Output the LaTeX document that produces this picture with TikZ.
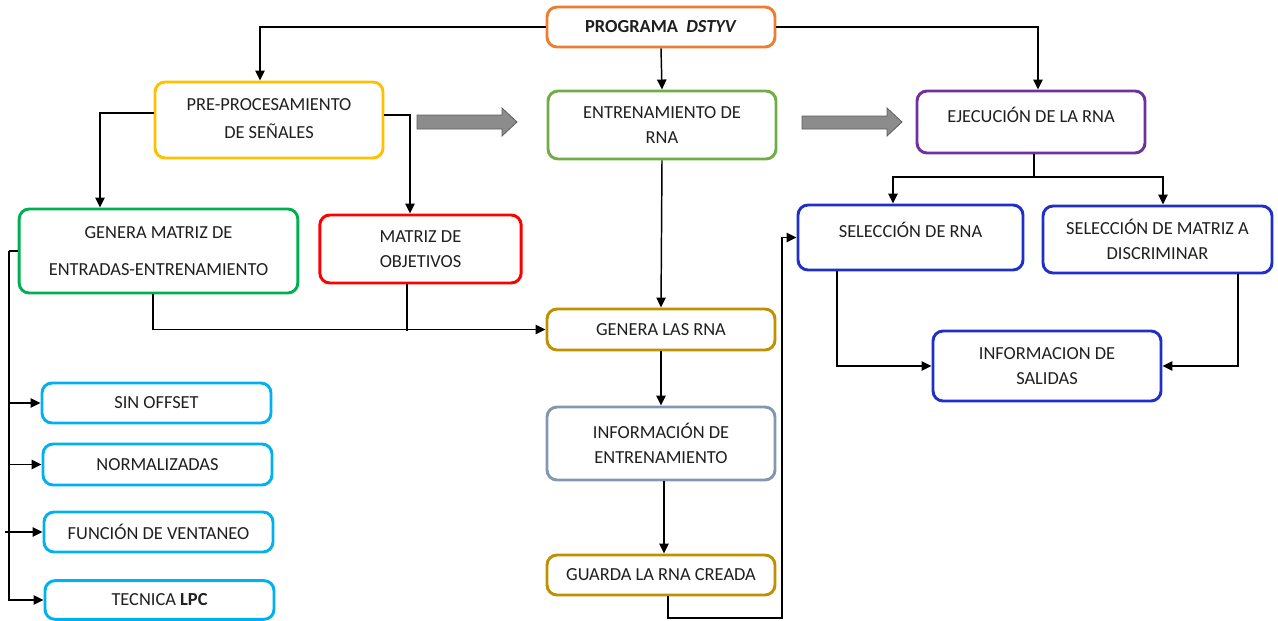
\documentclass[tikz,border=0pt]{standalone}
\usepackage{fontspec}
\setmainfont{Carlito}
\usetikzlibrary{arrows.meta,calc}
\definecolor{cOrange}{HTML}{ED7D31}
\definecolor{cYellow}{HTML}{FFC000}
\definecolor{cLeaf}{HTML}{70AD47}
\definecolor{cPurple}{HTML}{7030A0}
\definecolor{cGreen}{HTML}{00B050}
\definecolor{cRed}{HTML}{FF0000}
\definecolor{cGold}{HTML}{BF9000}
\definecolor{cSlate}{HTML}{8497B0}
\definecolor{cBlue}{HTML}{1F2FC8}
\definecolor{cSky}{HTML}{00B0F0}
\definecolor{cBlockFill}{HTML}{8C8C8C}
\definecolor{cBlockLine}{HTML}{5E5E5E}
\begin{document}
\begin{tikzpicture}[x=0.75pt,y=-0.75pt,
  box/.style={draw=#1, line width=2.2pt, rounded corners=7.5pt, fill=white,
    align=center, inner sep=0pt, text=black!88,
    font=\fontsize{13.8}{18.75}\selectfont},
  conn/.style={draw=black, line width=1.1pt},
  arrow/.style={conn, -{Triangle[length=7.5pt,width=7pt]}},
  blockarrow/.style={fill=cBlockFill, draw=cBlockLine, line width=0.6pt}]
\useasboundingbox (0,0) rectangle (1278,621);

% top level
\node[box=cOrange, minimum width=171pt, minimum height=30pt] (prog) at (661,27)
  {\textbf{PROGRAMA\ \ \textit{DSTYV}}};
\node[box=cYellow, minimum width=171pt, minimum height=57pt] (pre) at (269,120)
  {\raisebox{2pt}[\height][\depth]{PRE-PROCESAMIENTO}\\DE SEÑALES};
\node[box=cLeaf, minimum width=171pt, minimum height=51pt] (ent) at (662,125)
  {ENTRENAMIENTO DE\\RNA};
\node[box=cPurple, minimum width=171pt, minimum height=46.5pt] (eje) at (1031,122)
  {\raisebox{5pt}[\height][\depth]{EJECUCIÓN DE LA RNA}};

% signal pre-processing branch
\node[box=cGreen, minimum width=209pt, minimum height=63pt] (gmat) at (158.5,251)
  {GENERA MATRIZ DE\\[9pt]ENTRADAS-ENTRENAMIENTO};
\node[box=cRed, minimum width=151pt, minimum height=51pt] (mobj) at (420.5,249)
  {MATRIZ DE\\OBJETIVOS};
\node[box=cSky, minimum width=171.75pt, minimum height=30pt] (sin) at (156.5,403)
  {SIN OFFSET};
\node[box=cSky, minimum width=171.75pt, minimum height=30.75pt] (norm) at (157.5,464.5)
  {NORMALIZADAS};
\node[box=cSky, minimum width=171.75pt, minimum height=30pt] (func) at (158.5,532)
  {FUNCIÓN DE VENTANEO};
\node[box=cSky, minimum width=171.75pt, minimum height=29pt] (lpc) at (159.5,600)
  {TECNICA \textbf{LPC}};

% training branch
\node[box=cGold, minimum width=171pt, minimum height=30.75pt] (glas) at (661,329.5)
  {GENERA LAS RNA};
\node[box=cSlate, minimum width=171pt, minimum height=54.75pt] (infe) at (661,443.5)
  {INFORMACIÓN DE\\ENTRENAMIENTO};
\node[box=cGold, minimum width=171pt, minimum height=30pt] (guar) at (661,575)
  {GUARDA LA RNA CREADA};

% execution branch
\node[box=cBlue, minimum width=168.75pt, minimum height=48.75pt] (selr) at (910.5,237.5)
  {\raisebox{6pt}[\height][\depth]{SELECCIÓN DE RNA}};
\node[box=cBlue, minimum width=171.75pt, minimum height=50.25pt] (selm) at (1157.5,239.5)
  {SELECCIÓN DE MATRIZ A\\DISCRIMINAR};
\node[box=cBlue, minimum width=171pt, minimum height=52.5pt] (insal) at (1047,366)
  {INFORMACION DE\\SALIDAS};

% block arrows between the stages
\draw[blockarrow] (417,115) -- (502,115) -- (502,108) -- (517,122) -- (502,136)
  -- (502,129) -- (417,129) -- cycle;
\draw[blockarrow] (802,116) -- (887,116) -- (887,108) -- (902,122) -- (887,136)
  -- (887,129) -- (802,129) -- cycle;

% helper coordinates for routed connectors
\coordinate (bus) at (9,251);
\coordinate (loop) at (782,618);
\coordinate (split) at (1034,177);
\coordinate (merge) at (407,331);

% connectors from the program box
\draw[arrow] (prog.west) -| ($(pre.north)+(-9,0)$);
\draw[arrow] (prog.east) -| ($(eje.north)+(7,0)$);
\draw[arrow] (prog.south) -- (ent.north);

% pre-processing connectors
\draw[arrow] ($(pre.west)+(0,-7)$) -| ($(gmat.north)+(-58.5,0)$);
\draw[arrow] ($(pre.east)+(0,-5)$) -| ($(mobj.north)+(-10.5,0)$);
\draw[arrow] ($(gmat.south)+(-5.5,0)$) |- (glas.west);
\draw[conn] ($(mobj.south)+(-13.5,0)$) -- (merge);

% matrix options
\draw[conn] (gmat.west) -- (bus);
\draw[arrow] (bus) |- (lpc.west);
\draw[arrow] (bus |- sin.west) -- (sin.west);
\draw[arrow] (bus |- norm.west) -- (norm.west);
\draw[arrow] ($(bus |- func.west)+(-4,0)$) -- (func.west);

% training chain
\draw[arrow] (ent.south) -- (glas.north);
\draw[arrow] (glas.south) -- (infe.north);
\draw[arrow] ($(infe.south)+(3,0)$) -- ($(guar.north)+(3,0)$);
\draw[arrow] ($(guar.south)+(7,0)$) |- (loop) |- (selr.west);

% execution connectors
\draw[conn] ($(eje.south)+(3,0)$) -- (split);
\draw[arrow] (split) -| ($(selr.north)+(-17.5,0)$);
\draw[arrow] (split) -| ($(selm.north)+(5.5,0)$);
\draw[arrow] ($(selr.south)+(-73.5,0)$) |- (insal.west);
\draw[arrow] ($(selm.south)+(80.5,0)$) |- (insal.east);
\end{tikzpicture}
\end{document}
